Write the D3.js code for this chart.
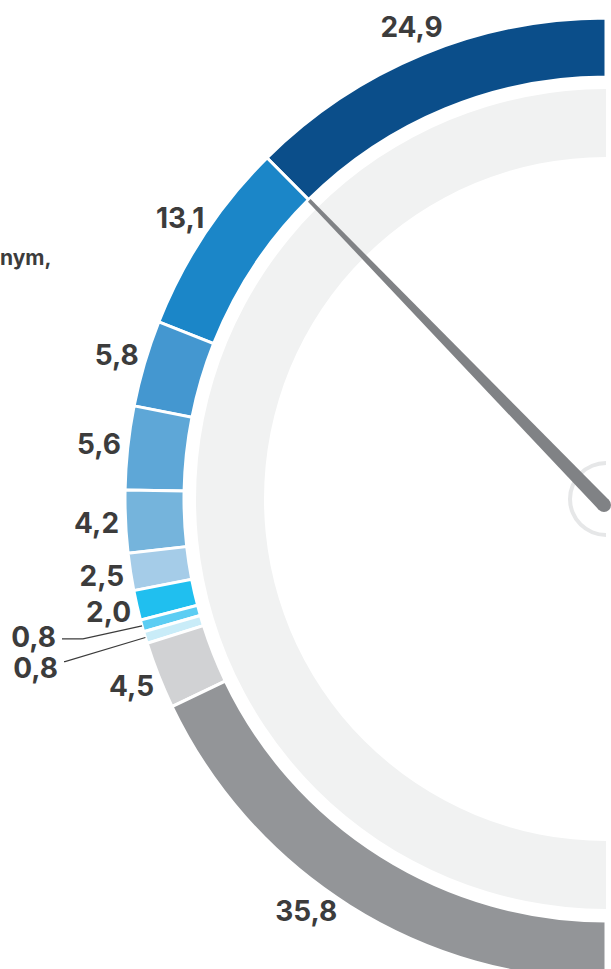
<!DOCTYPE html>
<html>
<head>
<meta charset="utf-8">
<script src="https://cdn.jsdelivr.net/npm/d3@7"></script>
<style>
  body { margin: 0; background: #fff; }
  svg { display: block; }
  text { font-family: Inter, "Noto Sans", sans-serif; font-weight: 700; fill: #3c3c3c; }
</style>
</head>
<body>
<div id="gauge"></div>
<script>
// shares in percent, top -> bottom along the half ring
const labels = ["24,9", "13,1", "5,8", "5,6", "4,2", "2,5", "2,0", "0,8", "0,8", "4,5", "35,8"];
const values = [24.9, 13.1, 5.8, 5.6, 4.2, 2.5, 2.0, 0.8, 0.8, 4.5, 35.8];
const colors = ["#0b4e8a", "#1b86c8", "#4497d0", "#5ea7d7", "#75b4dc", "#a5cce8",
                "#20bfef", "#5ccdf3", "#c9ecf8", "#d1d2d4", "#939598"];
const needleValue = 24.9;
const sideText = "nym,";

const W = 611, H = 969;
const cx = 606, cy = 499;
const rOuter = 481, rInner = 422;
const rTrackOuter = 410, rTrackInner = 342;
const rLabel = 510;

const svg = d3.select("#gauge")
              .append("svg")
              .attr("width", W)
              .attr("height", H);

const g = svg.append("g")
             .attr("transform", `translate(${cx}, ${cy})`);

// 0..100 % mapped on the left half, counter clockwise from 12 o'clock
const angle = d3.scaleLinear().domain([0, 100]).range([0, -Math.PI]);

const pie = d3.pie()
              .sort(null)
              .value(d => d.v)
              .startAngle(angle(0))
              .endAngle(angle(100));

const data = values.map((v, i) => ({ v: v, label: labels[i], color: colors[i] }));
const slices = pie(data);

// light track inside
g.append("path")
 .attr("d", d3.arc()({ innerRadius: rTrackInner, outerRadius: rTrackOuter, startAngle: 0, endAngle: -Math.PI }))
 .style("fill", "#f1f2f2");

// hub ring
g.append("path")
 .attr("d", d3.arc()({ innerRadius: 34, outerRadius: 38, startAngle: 0, endAngle: -Math.PI }))
 .style("fill", "#e6e7e8");

const arc = d3.arc().innerRadius(rInner).outerRadius(rOuter);

g.append("g")
 .selectAll("path")
 .data(slices)
 .enter()
 .append("path")
   .attr("d", arc)
   .style("fill", d => d.data.color)
   .style("stroke", "#fff")
   .style("stroke-width", 3)
   .style("stroke-linejoin", "miter");

// labels, kept above the bottom edge
const maxLabelAngle = angle(80);
function labelPos(d) {
  const m = Math.max((d.startAngle + d.endAngle) / 2, maxLabelAngle);
  return [rLabel * Math.sin(m), -rLabel * Math.cos(m)];
}
const big = slices.filter(d => d.data.v >= 1);
const small = slices.filter(d => d.data.v < 1);

g.append("g")
 .selectAll("text")
 .data(big)
 .enter()
 .append("text")
   .attr("x", d => labelPos(d)[0])
   .attr("y", d => labelPos(d)[1])
   .attr("dy", "0.35em")
   .attr("text-anchor", "middle")
   .style("font-size", "28px")
   .text(d => d.data.label);

// tiny slices get leader lines
const edgeArc = d3.arc().innerRadius(rOuter).outerRadius(rOuter);
small.forEach(function(d, i) {
  const p = edgeArc.centroid(d);
  const endY = p[1] + 13 + i * 11;
  g.append("polyline")
   .attr("points", [p, [-523 - i * 18, endY], [-544 + i * 2, endY]].map(q => q.join(",")).join(" "))
   .style("fill", "none")
   .style("stroke", "#3c3c3c")
   .style("stroke-width", 1.2);
  g.append("text")
   .attr("x", -550 + i * 2)
   .attr("y", endY + 8 + i * 8)
   .attr("text-anchor", "end")
   .style("font-size", "28px")
   .text(d.data.label);
});

// needle
const a = angle(needleValue);
const tipR = rInner - 1;
const tip = [tipR * Math.sin(a), -tipR * Math.cos(a)];
const half = 7, tipHalf = 1.8;
const nx = Math.cos(a), ny = Math.sin(a);
const bx = -2, by = 6;
g.append("path")
 .attr("d", d3.line()([
   [bx + half * nx, by + half * ny],
   [tip[0] + tipHalf * nx, tip[1] + tipHalf * ny],
   [tip[0] - tipHalf * nx, tip[1] - tipHalf * ny],
   [bx - half * nx, by - half * ny]
 ]) + "Z")
 .style("fill", "#808285");
g.append("circle")
 .attr("cx", bx)
 .attr("cy", by)
 .attr("r", half)
 .style("fill", "#808285");

// side note, cut at the left edge in the source
svg.append("text")
   .attr("x", 0)
   .attr("y", 265)
   .attr("text-anchor", "start")
   .style("font-size", "21px")
   .text(sideText);
</script>
</body>
</html>
